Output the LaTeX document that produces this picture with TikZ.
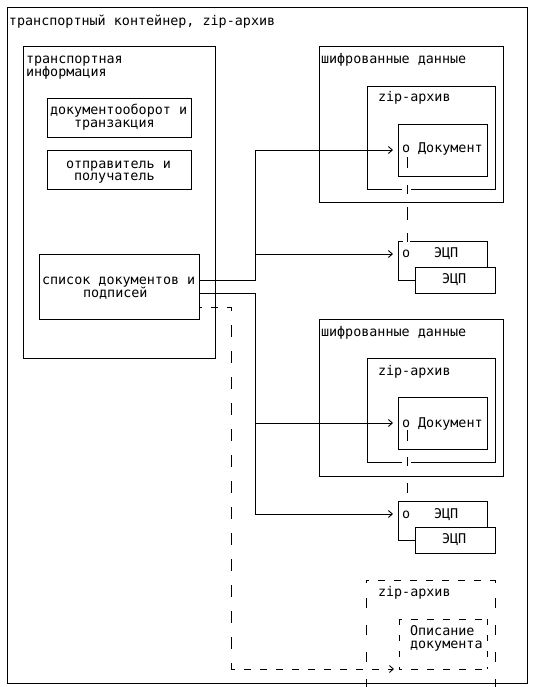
\documentclass[tikz,border=0pt]{standalone}
\usepackage{fontspec}
\setmonofont{DejaVu Sans Mono}
\usetikzlibrary{arrows.meta,calc}
\begin{document}
\begin{tikzpicture}[x=1pt,y=-1pt, line width=0.9pt,
  bxs/.style={draw, inner sep=0, outer sep=0, anchor=north west},
  hid/.style={inner sep=0, outer sep=0, anchor=north west},
  tx/.style={inner sep=0, outer sep=0, anchor=base west, font=\ttfamily\fontsize{13.4pt}{16pt}\selectfont},
  con/.style={-{Straight Barb[length=4pt,width=7pt,line width=0.9pt]}, shorten >=5pt},
  hd/.style={dash pattern=on 7pt off 9pt, dash phase=4pt},
  vd/.style={dash pattern=on 12pt off 14pt, dash phase=8pt}]
\useasboundingbox (0,0) rectangle (539,687);

% boxes
\node[bxs, minimum width=520pt, minimum height=676pt] (outer) at (7,7) {};
\node[bxs, minimum width=192pt, minimum height=312pt] (ti) at (23,46) {};
\node[bxs, minimum width=144pt, minimum height=39pt] (dt) at (47,98) {};
\node[bxs, minimum width=144pt, minimum height=39pt] (sr) at (47,150) {};
\node[bxs, minimum width=160pt, minimum height=65pt] (lst) at (39,254) {};

\node[bxs, minimum width=184pt, minimum height=156pt] (enc1) at (319,46) {};
\node[hid, minimum width=128pt, minimum height=103pt] (zip1) at (367,86) {};
\node[bxs, minimum width=89pt, minimum height=52pt] (doc1) at (398,124) {};
\node[hid, minimum width=89pt, minimum height=26pt] (sig1b) at (398,241) {};
\node[bxs, minimum width=80pt, minimum height=26pt] (sig1f) at (415,267) {};

\node[bxs, minimum width=184pt, minimum height=157pt] (enc2) at (319,319) {};
\node[hid, minimum width=128pt, minimum height=104pt] (zip2) at (367,358) {};
\node[bxs, minimum width=89pt, minimum height=52pt] (doc2) at (398,397) {};
\node[hid, minimum width=89pt, minimum height=26pt] (sig2b) at (398,501) {};
\node[bxs, minimum width=80pt, minimum height=26pt] (sig2f) at (415,527) {};

\node[hid, minimum width=129pt, minimum height=107pt] (zip3) at (366,580) {};
\node[hid, minimum width=88pt, minimum height=50pt] (desc) at (399,619) {};

% zip boxes with a gap in the bottom edge
\draw ($(zip1.south west)+(35,0)$) -- (zip1.south west) -- (zip1.north west) -- (zip1.north east) -- (zip1.south east) -- ++(-84,0);
\draw ($(zip2.south west)+(35,0)$) -- (zip2.south west) -- (zip2.north west) -- (zip2.north east) -- (zip2.south east) -- ++(-84,0);

% back signature boxes
\draw (sig1b.south east) -- (sig1b.north east) -- ++(-77,0);
\draw ($(sig1b.north west)+(5,0)$) -- (sig1b.north west) -- (sig1b.west |- sig1f.west) -- (sig1f.west);
\draw (sig2b.south east) -- (sig2b.north east) -- (sig2b.north west) -- (sig2b.west |- sig2f.west) -- (sig2f.west);

% dashed boxes
\draw[hd] (zip3.north west) -- (zip3.north east);
\draw[dash pattern=on 3pt off 15pt on 10pt off 17pt on 10pt off 17pt on 10pt off 17pt on 10pt off 17pt on 10pt off 17pt] (zip3.north west) -- (zip3.south west);
\draw[dash pattern=on 3pt off 15pt on 10pt off 17pt on 10pt off 17pt on 10pt off 17pt on 10pt off 17pt on 10pt off 17pt] (zip3.north east) -- (zip3.south east);
\draw[hd] (desc.north west) -- (desc.north east);
\draw[hd] (desc.south west) -- (desc.south east);
\draw[dash pattern=on 6pt off 10pt] (desc.north west) -- (desc.south west);
\draw[dash pattern=on 6pt off 10pt] (desc.north east) -- (desc.south east);

% texts
\node[tx] (t0) at (9,25.5) {транспортный контейнер, zip-архив};
\node[tx] (t1) at (26,64) {транспортная};
\node[tx] (t2) at (26,76.5) {информация};
\node[tx] (t3) at (50,115) {документооборот и};
\node[tx] (t4) at (74,128) {транзакция};
\node[tx] (t5) at (66,168) {отправитель и};
\node[tx] (t6) at (74,180.5) {получатель};
\node[tx] (t7) at (42,284) {список документов и};
\node[tx] (t8) at (83,297) {подписей};

\node[tx] (e1) at (321,64) {шифрованные данные};
\node[tx] (z1) at (378,102) {zip-архив};
\node[tx] (d1) at (402,153) {o Документ};
\node[tx] (s1o) at (402,257) {o};
\node[tx] (s1a) at (434,257) {ЭЦП};
\node[tx] (s1b) at (442,283) {ЭЦП};

\node[tx] (e2) at (321,336) {шифрованные данные};
\node[tx] (z2) at (378,375) {zip-архив};
\node[tx] (d2) at (402,427) {o Документ};
\node[tx] (s2o) at (402,518) {o};
\node[tx] (s2a) at (434,518) {ЭЦП};
\node[tx] (s2b) at (442,543) {ЭЦП};

\node[tx] (z3) at (378,596) {zip-архив};
\node[tx] (o1) at (410,635) {Описание};
\node[tx] (o2) at (410,648) {документа};

% dashed links document -> signature
\coordinate (v1a) at ($(doc1.north west)+(9,33)$);
\coordinate (v1b) at ($(sig1b.north west)+(9,1)$);
\draw[dash pattern=on 11pt off 17pt on 9pt off 13pt on 13pt off 13pt on 9pt off 30pt] (v1a) -- (v1b);
\coordinate (v2a) at ($(doc2.north west)+(9,33)$);
\coordinate (v2b) at ($(sig2b.north west)+(9,-8)$);
\draw[dash pattern=on 11pt off 16pt on 9pt off 17pt on 10pt off 30pt] (v2a) -- (v2b);

% connectors from the list
\coordinate (l1) at ($(lst.north east)+(0,26)$);
\coordinate (l2) at ($(lst.north east)+(0,39)$);
\coordinate (l3) at ($(lst.north east)+(0,53)$);
\coordinate (j1) at ($(l1)+(56,0)$);
\coordinate (j2) at ($(l2)+(56,0)$);
\coordinate (k3) at ($(l3)+(32,0)$);
\coordinate (k4) at (k3 |- desc.south);

\draw[con] (l1) -- (j1) |- (doc1.west);
\draw[con] (j1 |- sig1b.west) -- (sig1b.west);
\draw[con] (l2) -- (j2) |- (sig2b.west);
\draw[con] (j2 |- doc2.west) -- (doc2.west);

\draw[hd] (l3) -- (k3);
\draw[vd] (k3) -- (k4);
\draw[con, dash pattern=on 7pt off 9pt, dash phase=3pt] (k4) -- (desc.south west);
\end{tikzpicture}
\end{document}
